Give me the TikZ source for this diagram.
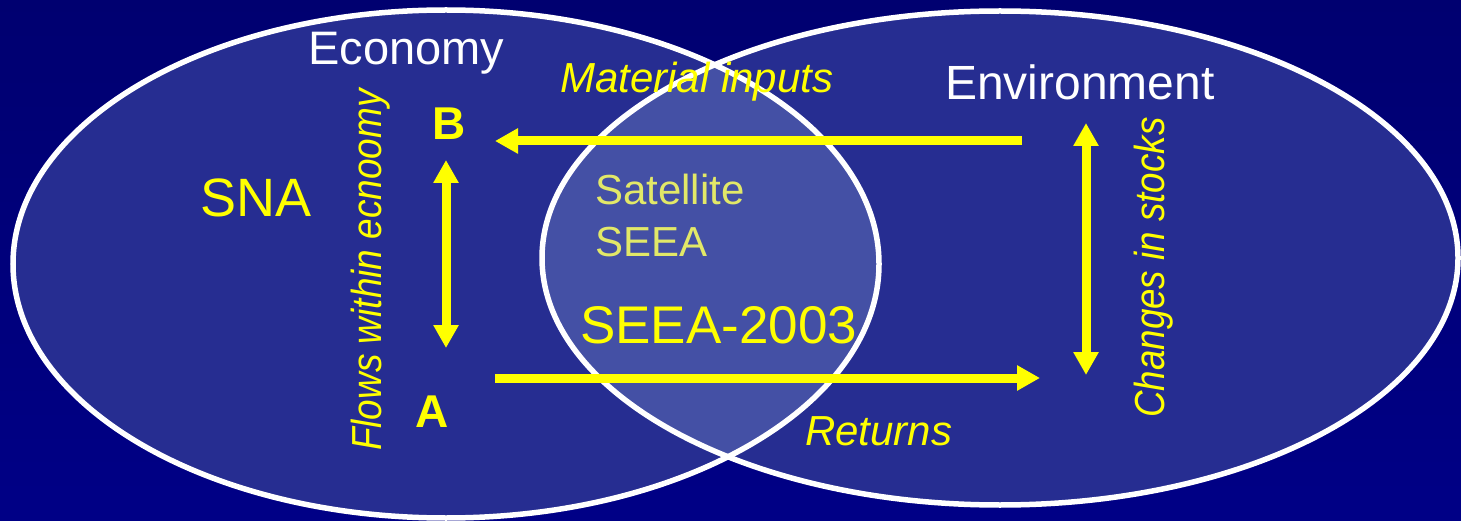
\documentclass[tikz,border=0pt]{standalone}
\usepackage{fontspec}
\usepackage{graphicx}
\setmainfont{Liberation Sans}
\usetikzlibrary{arrows.meta}
\definecolor{bgtop}{RGB}{0,0,112}
\definecolor{bgbot}{RGB}{0,0,134}
\definecolor{ellfill}{RGB}{38,45,145}
\definecolor{interfill}{RGB}{68,80,165}
\definecolor{sunyellow}{RGB}{255,255,0}
\definecolor{paleyellow}{RGB}{226,232,104}
\tikzset{
  ring/.style={draw=white, line width=5.5pt},
  lbl/.style={inner sep=0pt, anchor=base west},
  flow/.style={draw=sunyellow, line width=9pt, -{Triangle[length=23pt,width=24pt]}},
  flow2/.style={draw=sunyellow, line width=9pt, {Triangle[length=23pt,width=24pt]}-{Triangle[length=23pt,width=24pt]}}
}
\begin{document}
\begin{tikzpicture}[x=1pt,y=-1pt]
\useasboundingbox (0,0) rectangle (1461,521);
\shade[top color=bgtop, bottom color=bgbot] (0,0) rectangle (1461,521);
% ellipses
\fill[ellfill] (446,264) ellipse [x radius=433, y radius=254];
\fill[ellfill] (1000,258) ellipse [x radius=458, y radius=247];
\begin{scope}
  \clip (446,264) ellipse [x radius=433, y radius=254];
  \fill[interfill] (1000,258) ellipse [x radius=458, y radius=247];
\end{scope}
\draw[ring] (446,264) ellipse [x radius=433, y radius=254];
\draw[ring] (1000,258) ellipse [x radius=458, y radius=247];
% labels
\node[lbl, text=white, font=\fontsize{47}{51}\selectfont] (econ) at (308,65) {Economy};
\node[lbl, text=white, font=\fontsize{48}{52}\selectfont] (env) at (945,100) {Environment};
\node[lbl, text=sunyellow, font=\fontsize{42}{46}\selectfont\itshape] (matin) at (560,93) {Material inputs};
\node[lbl, text=sunyellow, font=\fontsize{54}{58}\selectfont] (sna) at (200,217) {SNA};
\node[lbl, text=sunyellow, font=\fontsize{46}{50}\selectfont\bfseries] (B) at (432,140) {B};
\node[lbl, text=sunyellow, font=\fontsize{46}{50}\selectfont\bfseries] (A) at (415,427) {A};
\node[lbl, text=paleyellow, font=\fontsize{42}{46}\selectfont] (sat) at (595,205) {Satellite};
\node[lbl, text=paleyellow, font=\fontsize{42}{46}\selectfont] (seea) at (595,257) {SEEA};
\node[lbl, text=sunyellow, font=\fontsize{53}{57}\selectfont] (seea03) at (580,343) {SEEA-2003};
\node[lbl, text=sunyellow, font=\fontsize{42}{46}\selectfont\itshape] (ret) at (805,445) {Returns};
\node[lbl, text=sunyellow, font=\fontsize{42}{46}\selectfont\itshape, rotate=90] (flows) at (381,451) {\scalebox{0.88}[1]{Flows within ecnoomy}};
\node[lbl, text=sunyellow, font=\fontsize{42}{46}\selectfont\itshape, rotate=90] (stocks) at (1164,418) {\scalebox{0.875}[1]{Changes in stocks}};
% arrow end points
\coordinate (tS) at (1022,141);
\coordinate (tE) at (495,141);
\coordinate (bS) at (495,378);
\coordinate (bE) at (1040,378);
\coordinate (lT) at (446,160);
\coordinate (lB) at (446,348);
\coordinate (rT) at (1086,123);
\coordinate (rB) at (1086,375);
\draw[flow] (tS) -- (tE);
\draw[flow] (bS) -- (bE);
\draw[flow2] (lT) -- (lB);
\draw[flow2] (rT) -- (rB);
\end{tikzpicture}
\end{document}
